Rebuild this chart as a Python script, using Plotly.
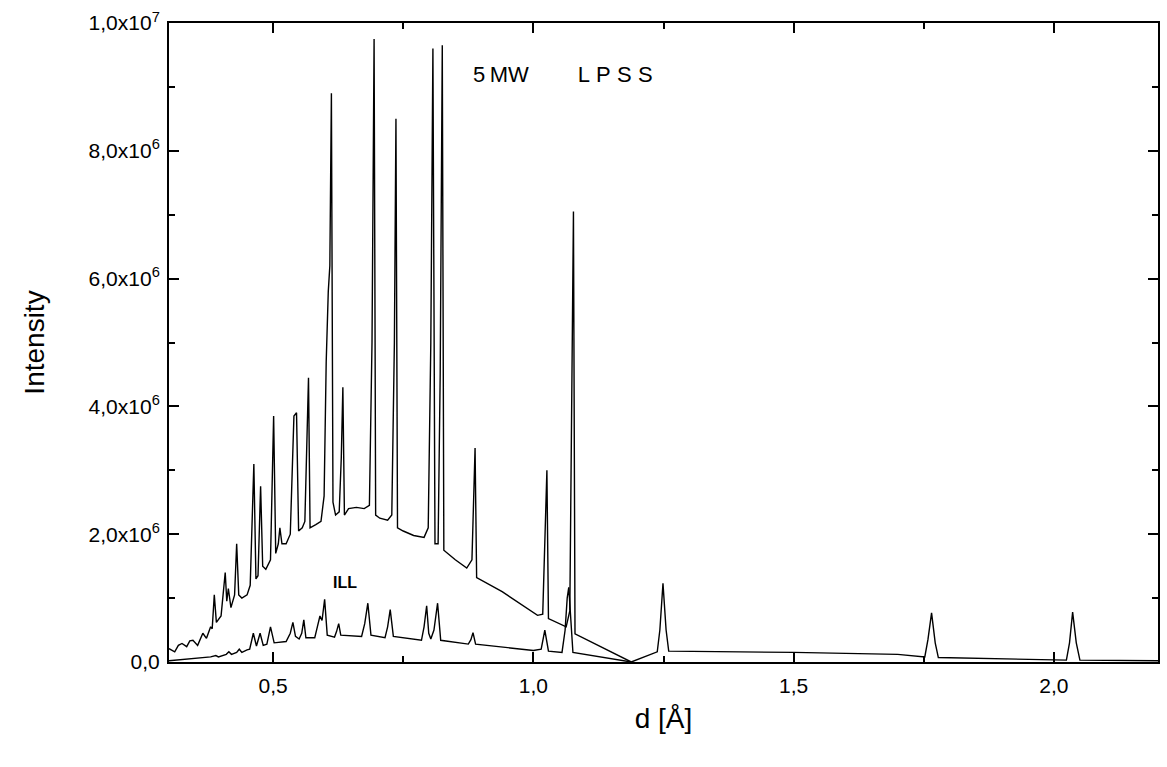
import plotly.graph_objects as go

# ---- data (d in Angstrom, intensity in counts) ----
lpss_d = [0.300, 0.311, 0.318, 0.325, 0.334, 0.340, 0.346, 0.355, 0.365, 0.372,
          0.380, 0.383, 0.387, 0.391, 0.400, 0.408, 0.411, 0.414, 0.419, 0.426,
          0.430, 0.434, 0.440, 0.450, 0.456, 0.463, 0.467, 0.471, 0.476, 0.480,
          0.486, 0.495, 0.501, 0.505, 0.510, 0.513, 0.517, 0.525, 0.533, 0.540,
          0.545, 0.549, 0.556, 0.561, 0.568, 0.571, 0.582, 0.592, 0.598, 0.602,
          0.606, 0.609, 0.612, 0.615, 0.620, 0.627, 0.631, 0.634, 0.637, 0.645,
          0.660, 0.675, 0.685, 0.690, 0.694, 0.697, 0.705, 0.720, 0.728, 0.733,
          0.736, 0.739, 0.750, 0.770, 0.790, 0.798, 0.803, 0.807, 0.811, 0.817,
          0.821, 0.825, 0.828, 0.850, 0.872, 0.882, 0.888, 0.891, 0.940, 1.008,
          1.018, 1.024, 1.026, 1.029, 1.063, 1.070, 1.074, 1.077, 1.080, 1.188]
lpss_i = [0.21e6, 0.16e6, 0.26e6, 0.29e6, 0.24e6, 0.33e6, 0.34e6, 0.26e6, 0.45e6, 0.37e6,
          0.55e6, 0.52e6, 1.05e6, 0.62e6, 0.72e6, 1.40e6, 0.95e6, 1.15e6, 0.85e6, 1.05e6,
          1.85e6, 1.05e6, 1.00e6, 1.05e6, 1.20e6, 3.10e6, 1.30e6, 1.35e6, 2.75e6, 1.50e6,
          1.45e6, 1.60e6, 3.85e6, 1.70e6, 1.85e6, 2.10e6, 1.85e6, 1.85e6, 2.00e6, 3.85e6,
          3.90e6, 2.05e6, 2.10e6, 2.20e6, 4.45e6, 2.10e6, 2.15e6, 2.20e6, 2.60e6, 4.70e6,
          5.80e6, 6.20e6, 8.90e6, 2.50e6, 2.30e6, 2.35e6, 3.20e6, 4.30e6, 2.30e6, 2.40e6,
          2.42e6, 2.40e6, 2.45e6, 5.00e6, 9.75e6, 2.30e6, 2.25e6, 2.22e6, 2.30e6, 5.00e6,
          8.50e6, 2.10e6, 2.05e6, 1.98e6, 1.95e6, 2.10e6, 5.00e6, 9.60e6, 1.85e6, 1.85e6,
          4.50e6, 9.65e6, 1.75e6, 1.60e6, 1.47e6, 1.60e6, 3.35e6, 1.32e6, 1.10e6, 0.73e6,
          0.75e6, 2.60e6, 3.00e6, 0.68e6, 0.55e6, 0.80e6, 4.50e6, 7.05e6, 0.44e6, 0.00e6]

ill_d = [0.300, 0.330, 0.360, 0.380, 0.390, 0.395, 0.410, 0.415, 0.420, 0.430,
         0.435, 0.440, 0.450, 0.455, 0.462, 0.468, 0.475, 0.481, 0.488, 0.495,
         0.502, 0.525, 0.533, 0.538, 0.543, 0.550, 0.555, 0.559, 0.563, 0.580,
         0.585, 0.590, 0.594, 0.599, 0.604, 0.618, 0.622, 0.626, 0.630, 0.670,
         0.676, 0.682, 0.688, 0.715, 0.720, 0.725, 0.731, 0.785, 0.790, 0.795,
         0.799, 0.803, 0.809, 0.816, 0.822, 0.875, 0.880, 0.884, 0.889, 0.950,
         1.000, 1.015, 1.022, 1.029, 1.055, 1.061, 1.065, 1.068, 1.072, 1.076,
         1.188, 1.238, 1.243, 1.249, 1.255, 1.260, 1.500, 1.700, 1.752, 1.758,
         1.765, 1.772, 1.778, 1.950, 2.024, 2.030, 2.036, 2.043, 2.050, 2.200]
ill_i = [0.02e6, 0.04e6, 0.07e6, 0.08e6, 0.10e6, 0.08e6, 0.12e6, 0.16e6, 0.12e6, 0.15e6,
         0.20e6, 0.15e6, 0.19e6, 0.20e6, 0.45e6, 0.25e6, 0.45e6, 0.26e6, 0.28e6, 0.55e6,
         0.30e6, 0.32e6, 0.45e6, 0.62e6, 0.40e6, 0.36e6, 0.45e6, 0.66e6, 0.38e6, 0.38e6,
         0.55e6, 0.72e6, 0.65e6, 0.98e6, 0.42e6, 0.39e6, 0.48e6, 0.60e6, 0.42e6, 0.40e6,
         0.60e6, 0.92e6, 0.42e6, 0.38e6, 0.55e6, 0.82e6, 0.40e6, 0.34e6, 0.55e6, 0.88e6,
         0.45e6, 0.36e6, 0.50e6, 0.92e6, 0.34e6, 0.28e6, 0.35e6, 0.46e6, 0.28e6, 0.22e6,
         0.18e6, 0.20e6, 0.50e6, 0.17e6, 0.15e6, 0.50e6, 1.00e6, 1.17e6, 0.70e6, 0.15e6,
         0.00e6, 0.16e6, 0.50e6, 1.23e6, 0.50e6, 0.17e6, 0.15e6, 0.12e6, 0.08e6, 0.35e6,
         0.77e6, 0.30e6, 0.07e6, 0.05e6, 0.03e6, 0.30e6, 0.78e6, 0.30e6, 0.03e6, 0.02e6]

x_tick_vals = [0.5, 1.0, 1.5, 2.0]
x_tick_text = ["0,5", "1,0", "1,5", "2,0"]
y_tick_vals = [0, 2e6, 4e6, 6e6, 8e6, 1e7]
y_tick_text = ["0,0", "2,0x10<sup>6</sup>", "4,0x10<sup>6</sup>", "6,0x10<sup>6</sup>",
               "8,0x10<sup>6</sup>", "1,0x10<sup>7</sup>"]

FONT = "Liberation Sans, Arial, sans-serif"

fig = go.Figure()
fig.add_trace(go.Scatter(x=lpss_d, y=lpss_i, mode="lines", name="5 MW LPSS",
                         line=dict(color="black", width=1.4), showlegend=False))
fig.add_trace(go.Scatter(x=ill_d, y=ill_i, mode="lines", name="ILL",
                         line=dict(color="black", width=1.4), showlegend=False))

fig.add_annotation(x=0.881, y=9.2e6, xanchor="left", yanchor="middle",
                   text=("5&#8201;MW&nbsp;&nbsp;&nbsp;&nbsp;&nbsp;&nbsp;&nbsp;&nbsp;"
                         "L&#8201;&#8202;P&#8201;&#8202;S&#8201;&#8202;S"),
                   showarrow=False,
                   font=dict(family=FONT, size=22, color="black"))
fig.add_annotation(x=0.612, y=1.25e6, xanchor="left", yanchor="middle",
                   text="<b>ILL</b>", showarrow=False,
                   font=dict(family=FONT, size=16, color="black"))

fig.update_layout(
    width=1167, height=767,
    margin=dict(l=169, r=7, t=23, b=105),
    paper_bgcolor="white", plot_bgcolor="white",
    font=dict(family=FONT, size=21, color="black"),
)
fig.update_xaxes(
    range=[0.3, 2.2], tickmode="array", tickvals=x_tick_vals, ticktext=x_tick_text,
    showgrid=False, zeroline=False, showline=True, linecolor="black", linewidth=2,
    mirror="allticks", ticks="inside", ticklen=10, tickwidth=1.5, tickcolor="black",
    minor=dict(tickmode="linear", tick0=0, dtick=0.25, ticks="inside", ticklen=6,
               tickwidth=1.5, tickcolor="black"),
    tickfont=dict(size=21), ticklabelstandoff=4,
    title=dict(text="d [Å]", font=dict(size=28), standoff=12),
)
fig.update_yaxes(
    range=[0, 1e7], tickmode="array", tickvals=y_tick_vals, ticktext=y_tick_text,
    showgrid=False, zeroline=False, showline=True, linecolor="black", linewidth=2,
    mirror="allticks", ticks="inside", ticklen=10, tickwidth=1.5, tickcolor="black",
    minor=dict(tickmode="linear", tick0=0, dtick=1e6, ticks="inside", ticklen=6,
               tickwidth=1.5, tickcolor="black"),
    tickfont=dict(size=21), ticklabelstandoff=3,
    title=dict(text="Intensity", font=dict(size=28), standoff=36),
)

fig.write_html("out.html")
